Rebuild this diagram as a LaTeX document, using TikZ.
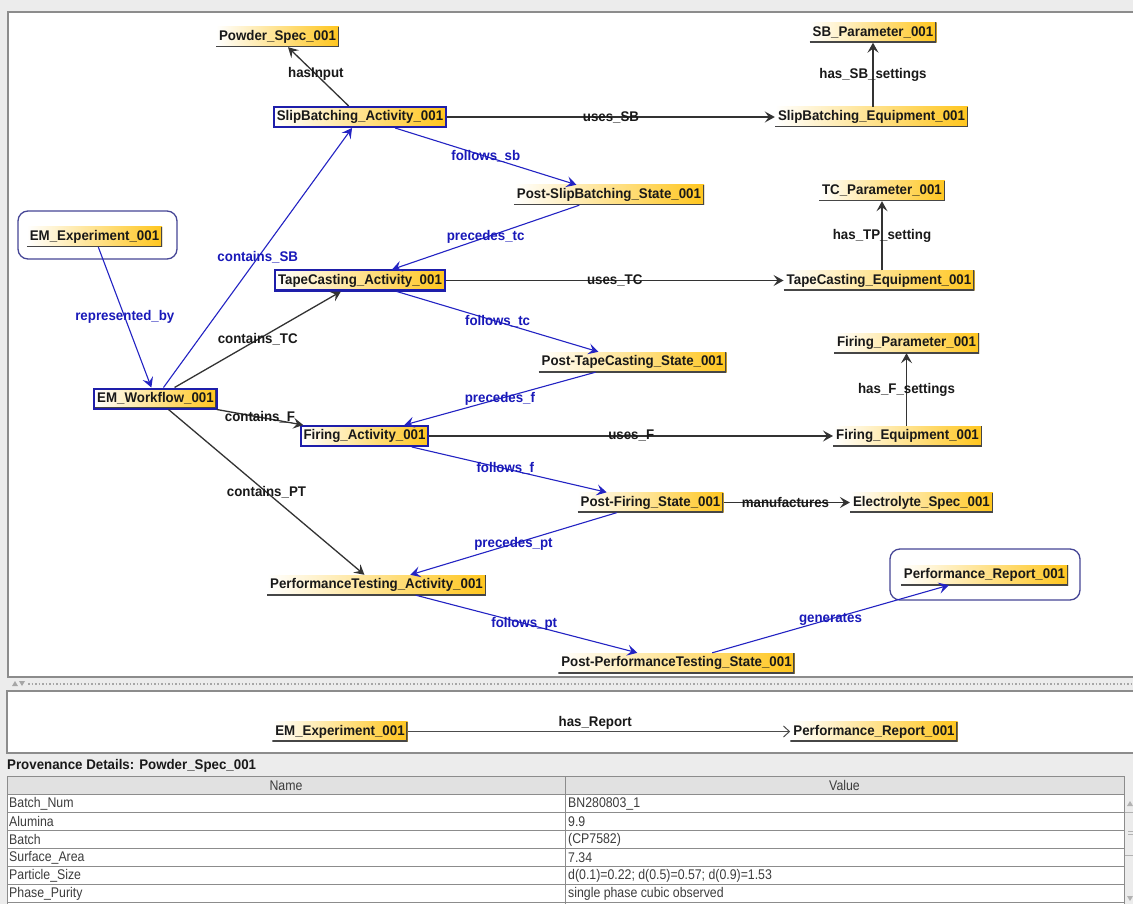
\documentclass[tikz,border=0pt]{standalone}
\usepackage{fontspec}
\setmainfont{Liberation Sans}
\newfontfamily\lblfont[FakeStretch=0.95]{Liberation Sans}
\newfontfamily\tabfont[FakeStretch=0.88]{Liberation Sans}
\usetikzlibrary{arrows.meta}
\definecolor{gold}{RGB}{255,198,30}
\definecolor{paleyel}{RGB}{255,242,195}
\definecolor{eblue}{RGB}{35,35,195}
\definecolor{tblue}{RGB}{25,25,185}
\definecolor{boxblue}{RGB}{30,30,170}
\definecolor{framec}{RGB}{70,70,150}
\definecolor{bgc}{RGB}{236,236,236}
\definecolor{bordc}{RGB}{140,140,140}
\definecolor{txt}{RGB}{25,25,25}
\definecolor{tabtxt}{RGB}{60,60,60}
\tikzset{
  lbl/.style={font=\lblfont\bfseries\fontsize{14}{16}\selectfont, text=txt,
    inner xsep=3pt, inner ysep=0pt, minimum height=20pt, text height=10.5pt, text depth=3pt,
    left color=white, middle color=paleyel, right color=gold,
    path picture={\draw[gray!55!black, line width=2.6pt]
      (path picture bounding box.south west) -- (path picture bounding box.south east)
      -- (path picture bounding box.north east);}},
  act/.style={lbl, draw=boxblue, line width=2pt},
  frame/.style={draw=framec, line width=1.3pt, rounded corners=10pt},
  elbl/.style={font=\lblfont\bfseries\fontsize{14}{16}\selectfont, inner sep=0pt, text=txt},
  belbl/.style={elbl, text=tblue},
  bedge/.style={draw=eblue, line width=1.1pt, -{Stealth[length=10pt,width=11pt,inset=4pt]}},
  kedge/.style={draw=black!80, line width=1.3pt, -{Stealth[length=10pt,width=11pt,inset=4pt]}},
  redge/.style={draw=black!70, line width=1pt, -{Straight Barb[length=6pt,width=11pt,line width=1pt]}},
  tabtext/.style={font=\tabfont\fontsize{14}{16}\selectfont, text=tabtxt, inner sep=0pt, anchor=west},
}
\begin{document}
\begin{tikzpicture}[x=1pt,y=-1pt]
\useasboundingbox (0,0) rectangle (1133,904);
% backgrounds and panels
\fill[bgc] (0,0) rectangle (1133,904);
\fill[white] (8,12) rectangle (1133,677);
\draw[bordc, line width=1.5pt] (1133,12) -- (8,12) -- (8,677) -- (1133,677);
\draw[gray!70, dotted, line width=1.5pt] (28,684) -- (1133,684);
\fill[gray!70] (12,686) -- (18,686) -- (15,681) -- cycle;
\fill[gray!70] (19,681) -- (25,681) -- (22,686) -- cycle;
\fill[white] (7,691) rectangle (1133,753);
\draw[bordc, line width=1.5pt] (1133,691) -- (7,691) -- (7,753) -- (1133,753);

% ---------- main graph nodes ----------
\node[frame, minimum width=159pt, minimum height=48pt] (expf) at (97.5,235) {};
\node[frame, minimum width=190pt, minimum height=51pt] (reportf) at (985,574.5) {};
\node[lbl] (powder) at (277.5,37) {Powder\_Spec\_001};
\node[act] (sbact) at (360,117) {SlipBatching\_Activity\_001};
\node[lbl] (sbeq) at (871.5,117) {SlipBatching\_Equipment\_001};
\node[lbl] (sbpar) at (873,32.5) {SB\_Parameter\_001};
\node[lbl] (postsb) at (609,195) {Post-SlipBatching\_State\_001};
\node[lbl] (exp) at (94.5,237) {EM\_Experiment\_001};
\node[act] (tcact) at (360,280.5) {TapeCasting\_Activity\_001};
\node[lbl] (tceq) at (879,280.5) {TapeCasting\_Equipment\_001};
\node[lbl] (tcpar) at (882,191) {TC\_Parameter\_001};
\node[lbl] (posttc) at (632.5,362) {Post-TapeCasting\_State\_001};
\node[act] (wf) at (155.5,398.5) {EM\_Workflow\_001};
\node[lbl] (fpar) at (906.5,343) {Firing\_Parameter\_001};
\node[act] (fact) at (364.5,436) {Firing\_Activity\_001};
\node[lbl] (feq) at (907.5,436) {Firing\_Equipment\_001};
\node[lbl] (postf) at (650.5,502.5) {Post-Firing\_State\_001};
\node[lbl] (elec) at (921.5,502.5) {Electrolyte\_Spec\_001};
\node[lbl] (ptact) at (376.5,585) {PerformanceTesting\_Activity\_001};
\node[lbl] (report) at (984.5,575) {Performance\_Report\_001};
\node[lbl] (postpt) at (676.5,663) {Post-PerformanceTesting\_State\_001};

% ---------- main graph edges ----------
\draw[kedge] (sbact) -- node[elbl,pos=0.54]{hasInput} (powder);
\draw[kedge] (sbact) -- node[elbl]{uses\_SB} (sbeq);
\draw[kedge] (sbeq.north -| sbpar) -- node[elbl]{has\_SB\_settings} (sbpar);
\draw[bedge] (sbact) -- node[belbl]{follows\_sb} (postsb);
\draw[bedge] (postsb) -- node[belbl]{precedes\_tc} (tcact);
\draw[bedge] (wf) -- node[belbl]{contains\_SB} (sbact);
\draw[kedge] (wf) -- node[elbl]{contains\_TC} (tcact);
\draw[kedge] (tcact) -- node[elbl]{uses\_TC} (tceq);
\draw[kedge] (tceq.north -| tcpar) -- node[elbl]{has\_TP\_setting} (tcpar);
\draw[bedge] (tcact) -- node[belbl]{follows\_tc} (posttc);
\draw[bedge] (posttc) -- node[belbl]{precedes\_f} (fact);
\draw[kedge] (wf) -- node[elbl]{contains\_F} (fact);
\draw[kedge] (fact) -- node[elbl]{uses\_F} (feq);
\draw[kedge] (feq.north -| fpar) -- node[elbl]{has\_F\_settings} (fpar);
\draw[bedge] (fact) -- node[belbl,pos=0.48]{follows\_f} (postf);
\draw[kedge] (postf) -- node[elbl,pos=0.49]{manufactures} (elec);
\draw[kedge] (wf) -- node[elbl]{contains\_PT} (ptact);
\draw[bedge] (postf) -- node[belbl]{precedes\_pt} (ptact);
\draw[bedge] (ptact) -- node[belbl,pos=0.49]{follows\_pt} (postpt);
\draw[bedge] (postpt) -- node[belbl]{generates} (report);
\draw[bedge] (exp) -- node[belbl]{represented\_by} (wf);

% ---------- lower panel ----------
\node[lbl] (exp2) at (340,731.5) {EM\_Experiment\_001};
\node[lbl] (report2) at (874,731.5) {Performance\_Report\_001};
\draw[redge] (exp2) -- node[elbl,pos=0.49,yshift=9pt]{has\_Report} (report2);

% ---------- provenance table ----------
\node[elbl, anchor=west] (ptitle) at (7,766) {Provenance Details: Powder\_Spec\_001};
\fill[bgc!90!gray] (7,776) rectangle (1124,794);
\fill[white] (7,794) rectangle (1124,904);
\foreach \yy in {776,794,812,830,848,866,884,902}
  \draw[bordc, line width=1pt] (7,\yy) -- (1124,\yy);
\draw[bordc, line width=1pt] (7,776) -- (7,904);
\draw[bordc, line width=1pt] (565,776) -- (565,904);
\draw[bordc, line width=1pt] (1124,776) -- (1124,904);
\node[tabtext, anchor=center] (hname) at (286,785.5) {Name};
\node[tabtext, anchor=center] (hval) at (844.5,785.5) {Value};
\node[tabtext] (r1a) at (9,803.5) {Batch\_Num};
\node[tabtext] (r1b) at (568,803.5) {BN280803\_1};
\node[tabtext] (r2a) at (9,821.5) {Alumina};
\node[tabtext] (r2b) at (568,821.5) {9.9};
\node[tabtext] (r3a) at (9,839.5) {Batch};
\node[tabtext] (r3b) at (568,839.5) {(CP7582)};
\node[tabtext] (r4a) at (9,857.5) {Surface\_Area};
\node[tabtext] (r4b) at (568,857.5) {7.34};
\node[tabtext] (r5a) at (9,875.5) {Particle\_Size};
\node[tabtext] (r5b) at (568,875.5) {d(0.1)=0.22; d(0.5)=0.57; d(0.9)=1.53};
\node[tabtext] (r6a) at (9,893.5) {Phase\_Purity};
\node[tabtext] (r6b) at (568,893.5) {single phase cubic observed};
% scrollbar
\fill[gray!60] (1127,806) -- (1133,806) -- (1130,801) -- cycle;
\draw[gray!60, line width=0.8pt] (1125,812) -- (1133,812) (1125,855) -- (1133,855);
\draw[gray!60, line width=0.8pt] (1128,831) -- (1133,831) (1128,834) -- (1133,834);
\fill[gray!60] (1127,896) -- (1133,896) -- (1130,901) -- cycle;
\end{tikzpicture}
\end{document}
